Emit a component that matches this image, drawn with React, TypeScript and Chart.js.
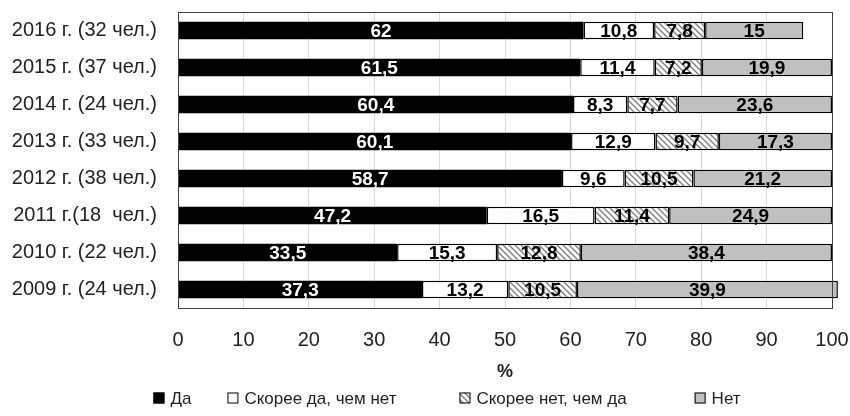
import React, { useEffect, useRef } from "react";
import { Chart, registerables } from "chart.js";

Chart.register(...registerables);

const categories = [
  "2016 г. (32 чел.)",
  "2015 г. (37 чел.)",
  "2014 г. (24 чел.)",
  "2013 г. (33 чел.)",
  "2012 г. (38 чел.)",
  "2011 г.(18  чел.)",
  "2010 г. (22 чел.)",
  "2009 г. (24 чел.)",
];
const seriesNames = ["Да", "Скорее да, чем нет", "Скорее нет, чем да", "Нет"];
const yesValues = [62, 61.5, 60.4, 60.1, 58.7, 47.2, 33.5, 37.3];
const ratherYesValues = [10.8, 11.4, 8.3, 12.9, 9.6, 16.5, 15.3, 13.2];
const ratherNoValues = [7.8, 7.2, 7.7, 9.7, 10.5, 11.4, 12.8, 10.5];
const noValues = [15, 19.9, 23.6, 17.3, 21.2, 24.9, 38.4, 39.9];
const xTicks = [0, 10, 20, 30, 40, 50, 60, 70, 80, 90, 100];

const FONT = "'Liberation Sans', 'Noto Sans', sans-serif";
const LABEL_FONT = "'Liberation Sans', sans-serif";
const TEXT = "#222222";

function makeHatch(): CanvasPattern | string {
  const c = document.createElement("canvas");
  c.width = 6;
  c.height = 6;
  const g = c.getContext("2d");
  if (!g) return "#cccccc";
  g.fillStyle = "#ffffff";
  g.fillRect(0, 0, 6, 6);
  g.strokeStyle = "#7a7a7a";
  g.lineWidth = 1.3;
  g.beginPath();
  g.moveTo(-1, -1);
  g.lineTo(7, 7);
  g.moveTo(-1, 5);
  g.lineTo(1, 7);
  g.moveTo(5, -1);
  g.lineTo(7, 1);
  g.stroke();
  return g.createPattern(c, "repeat") || "#cccccc";
}

export default function App() {
  const ref = useRef<HTMLCanvasElement | null>(null);

  useEffect(() => {
    document.body.style.margin = "0";
    const canvas = ref.current;
    if (!canvas) return;
    const hatch = makeHatch();
    const fills: any[] = ["#000000", "#ffffff", hatch, "#c0c0c0"];
    const values = [yesValues, ratherYesValues, ratherNoValues, noValues];

    const labelPlugin = {
      id: "segLabels",
      afterDatasetsDraw(chart: any) {
        const ctx = chart.ctx;
        ctx.save();
        ctx.font = `bold 19px ${LABEL_FONT}`;
        ctx.textAlign = "center";
        ctx.textBaseline = "middle";
        chart.data.datasets.forEach((ds: any, di: number) => {
          const meta = chart.getDatasetMeta(di);
          meta.data.forEach((el: any, i: number) => {
            const { x, base, y } = el.getProps(["x", "base", "y"], true);
            const v = ds.data[i];
            ctx.fillStyle = di === 0 ? "#ffffff" : "#000000";
            ctx.fillText(String(v).replace(".", ","), (x + base) / 2, y + 1);
          });
        });
        ctx.restore();
      },
    };

    const framePlugin = {
      id: "frame",
      afterDraw(chart: any) {
        const { ctx, chartArea } = chart;
        ctx.save();
        ctx.strokeStyle = "#404040";
        ctx.lineWidth = 1;
        ctx.strokeRect(
          Math.round(chartArea.left) + 0.5,
          Math.round(chartArea.top) + 0.5,
          Math.round(chartArea.right - chartArea.left),
          Math.round(chartArea.bottom - chartArea.top)
        );
        ctx.restore();
      },
    };

    const legendGaps = [36, 63, 68];
    const legendPlugin = {
      id: "customLegend",
      afterDraw(chart: any) {
        const ctx = chart.ctx;
        ctx.save();
        ctx.font = `17px ${FONT}`;
        ctx.textBaseline = "middle";
        const box = 11;
        const gapBox = 6;
        const widths = chart.data.datasets.map(
          (ds: any) => box + gapBox + ctx.measureText(ds.label).width
        );
        const total =
          widths.reduce((a: number, b: number) => a + b, 0) +
          legendGaps.reduce((a, b) => a + b, 0);
        let x = 447 - total / 2;
        const y = 398;
        chart.data.datasets.forEach((ds: any, i: number) => {
          ctx.fillStyle = ds.backgroundColor;
          ctx.fillRect(x, y - box / 2, box, box);
          ctx.strokeStyle = "#000000";
          ctx.lineWidth = 1;
          ctx.strokeRect(x + 0.5, y - box / 2 + 0.5, box - 1, box - 1);
          ctx.fillStyle = TEXT;
          ctx.textAlign = "left";
          ctx.fillText(ds.label, x + box + gapBox, y + 1);
          x += widths[i] + (legendGaps[i] || 0);
        });
        ctx.restore();
      },
    };

    const chart = new Chart(canvas, {
      type: "bar",
      data: {
        labels: categories,
        datasets: values.map((d, i) => ({
          label: seriesNames[i],
          data: d,
          backgroundColor: fills[i],
          borderColor: "#000000",
          borderWidth: i === 0 ? 0 : 1.5,
          borderSkipped: false,
          barPercentage: 0.47,
          categoryPercentage: 1,
          clip: false as any,
        })),
      },
      options: {
        indexAxis: "y",
        animation: false,
        responsive: true,
        maintainAspectRatio: false,
        layout: { padding: { top: 12, right: 18, left: 0, bottom: 33 } },
        plugins: {
          legend: { display: false },
          tooltip: { enabled: false },
        },
        scales: {
          x: {
            stacked: true,
            min: 0,
            max: 100,
            afterBuildTicks(scale: any) {
              scale.ticks = xTicks.map((v) => ({ value: v }));
            },
            grid: { color: "#d9d9d9", drawTicks: false },
            border: { display: false },
            ticks: {
              padding: 20,
              color: TEXT,
              font: { family: FONT, size: 20 },
            },
            title: {
              display: true,
              text: "%",
              color: TEXT,
              font: { family: FONT, size: 18, weight: "bold" },
              padding: { top: 0, bottom: 0 },
            },
            afterFit(scale: any) {
              scale.height = 75;
              scale.paddingLeft = 0;
              scale.paddingRight = 0;
              scale.paddingTop = 0;
              scale.paddingBottom = 0;
            },
          },
          y: {
            stacked: true,
            grid: { display: false, drawTicks: false },
            border: { display: false },
            ticks: {
              padding: 21,
              color: TEXT,
              font: { family: FONT, size: 20 },
            },
            afterFit(scale: any) {
              scale.width = 178;
              scale.paddingLeft = 0;
              scale.paddingRight = 0;
              scale.paddingTop = 0;
              scale.paddingBottom = 0;
            },
          },
        },
      },
      plugins: [labelPlugin, framePlugin, legendPlugin],
    });

    return () => chart.destroy();
  }, []);

  return (
    <div style={{ width: 850, height: 416, position: "relative" }}>
      <canvas ref={ref} />
    </div>
  );
}
